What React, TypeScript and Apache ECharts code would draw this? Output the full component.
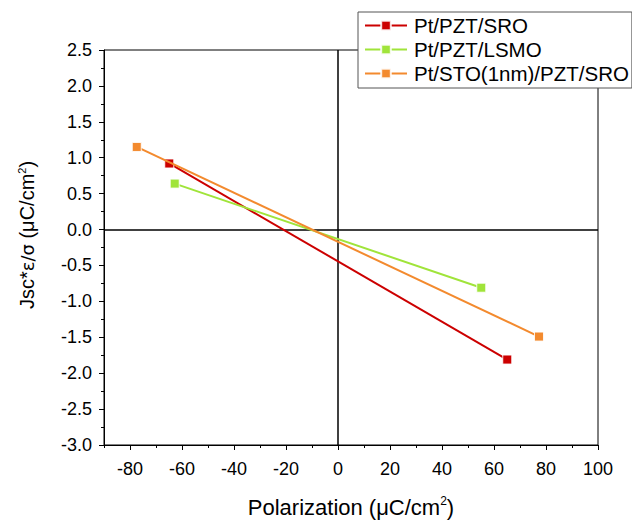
import React, { useEffect, useRef } from "react";
import * as echarts from "echarts";

const seriesNames = ["Pt/PZT/SRO", "Pt/PZT/LSMO", "Pt/STO(1nm)/PZT/SRO"];
const seriesColors = ["#cc0000", "#a0e43a", "#f38a2e"];
const redData: [number, number][] = [[-64.9, 0.92], [65.1, -1.81]];
const greenData: [number, number][] = [[-62.8, 0.64], [55.1, -0.81]];
const orangeData: [number, number][] = [[-77.4, 1.15], [77.3, -1.49]];
const xMajorTicks = [-80, -60, -40, -20, 0, 20, 40, 60, 80, 100];
const xMinorTicks = [-90, -70, -50, -30, -10, 10, 30, 50, 70, 90];
const xTitle = "Polarization (μC/cm{sup|2})";
const yTitle = "Jsc*{sym|ε/σ} (μC/cm{sup|2})";

const FONT = "Liberation Sans, Arial, sans-serif";

export default function App() {
  const ref = useRef<HTMLDivElement>(null);
  useEffect(() => {
    if (!ref.current) return;
    const chart = echarts.init(ref.current, null, { renderer: "svg" });
    const datas = [redData, greenData, orangeData];
    const series: any[] = datas.map((d, i) => ({
      name: seriesNames[i],
      type: "line",
      data: d,
      symbol: "rect",
      symbolSize: 9,
      lineStyle: { color: seriesColors[i], width: 2 },
      itemStyle: { color: seriesColors[i], borderColor: "rgba(255,255,255,0.85)", borderWidth: 1 },
      z: 3 + i,
    }));
    series[0].markLine = {
      silent: true,
      symbol: "none",
      label: { show: false },
      lineStyle: { color: "#000", width: 1.5, type: "solid" },
      data: [{ xAxis: 0 }, { yAxis: 0 }],
      z: 1,
    };
    const richX = {
      sup: { fontSize: 12, verticalAlign: "top", padding: [0, 0, 12, 0], fill: "#000", fontFamily: FONT },
    };
    const richY = {
      sup: { fontSize: 11, verticalAlign: "top", padding: [0, 0, 11, 0], fill: "#000", fontFamily: FONT },
      sym: { fontSize: 18, fontFamily: "DejaVu Sans", fill: "#000" },
    };
    chart.setOption({
      animation: false,
      textStyle: { fontFamily: FONT },
      grid: {
        left: 104,
        top: 50,
        width: 494,
        height: 395,
        show: true,
        borderColor: "#000",
        borderWidth: 1,
        backgroundColor: "transparent",
      },
      legend: {
        left: 358,
        top: 12,
        orient: "vertical",
        itemWidth: 42,
        itemHeight: 12,
        itemGap: 3,
        padding: [3, 3, 4, 6],
        borderColor: "#555",
        borderWidth: 1,
        backgroundColor: "#fff",
        textStyle: { fontSize: 20.5, color: "#000", fontFamily: FONT, padding: [0, 0, 0, 2] },
        data: seriesNames,
        z: 10,
      },
      graphic: [
        {
          type: "text",
          x: 351,
          y: 507,
          z: 20,
          style: {
            text: xTitle,
            fontSize: 22,
            fontFamily: FONT,
            fill: "#000",
            align: "center",
            verticalAlign: "middle",
            rich: richX,
          },
        },
        {
          type: "text",
          x: 27,
          y: 235,
          rotation: Math.PI / 2,
          z: 20,
          style: {
            text: yTitle,
            fontSize: 20,
            fontFamily: FONT,
            fill: "#000",
            align: "center",
            verticalAlign: "middle",
            rich: richY,
          },
        },
      ],
      xAxis: [
        {
          type: "value",
          min: -90,
          max: 100,
          position: "bottom",
          axisLine: { onZero: false, lineStyle: { color: "#000", width: 1 } },
          splitLine: { show: false },
          axisTick: { customValues: xMajorTicks, length: 5, lineStyle: { color: "#000" } },
          axisLabel: { customValues: xMajorTicks, fontSize: 18, color: "#000", margin: 15, fontFamily: FONT },
        },
        {
          type: "value",
          min: -90,
          max: 100,
          position: "bottom",
          axisLine: { show: false, onZero: false },
          splitLine: { show: false },
          axisTick: { customValues: xMinorTicks, length: 3, lineStyle: { color: "#000" } },
          axisLabel: { show: false },
        },
      ],
      yAxis: {
        type: "value",
        min: -3,
        max: 2.5,
        interval: 0.5,
        axisLine: { show: true, onZero: false, lineStyle: { color: "#000", width: 1 } },
        splitLine: { show: false },
        axisTick: { show: true, length: 5, lineStyle: { color: "#000" } },
        minorTick: { show: true, splitNumber: 2, length: 3, lineStyle: { color: "#000" } },
        axisLabel: {
          fontSize: 18,
          color: "#000",
          margin: 12,
          fontFamily: FONT,
          formatter: (v: number) => v.toFixed(1),
        },
      },
      series,
    });
    return () => chart.dispose();
  }, []);
  return (
    <div
      ref={ref}
      style={{ position: "fixed", left: 0, top: 0, width: 632, height: 522, background: "#fff" }}
    />
  );
}
